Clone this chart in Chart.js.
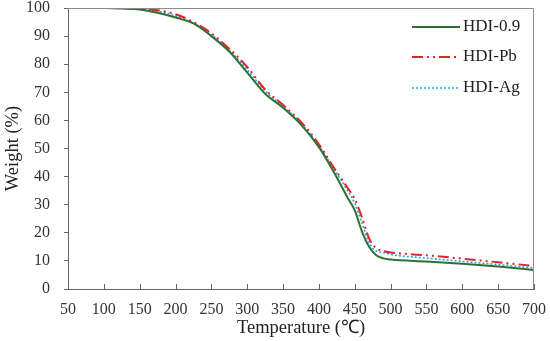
<!DOCTYPE html>
<html>
<head>
<meta charset="utf-8">
<script src="https://cdn.jsdelivr.net/npm/chart.js@4/dist/chart.umd.min.js"></script>
<style>
  html, body { margin: 0; padding: 0; background: #fff; }
  #wrap { width: 550px; height: 341px; position: relative; }
</style>
</head>
<body>
<div id="wrap"><canvas id="canvas"></canvas></div>
<script>
// temperature (°C) sample points
var temps = [50, 100, 125, 150, 175, 200, 225, 250, 275, 300, 325, 350, 375, 400, 420, 440, 450, 460, 470, 480, 490, 500, 550, 600, 650, 700];
var hdi09 = [100, 100, 99.8, 99.5, 98.3, 96.6, 94.5, 90, 84.5, 77, 69.5, 64.5, 58.5, 50.5, 42, 32.5, 28, 20.5, 15, 12, 10.9, 10.5, 9.8, 9, 8, 6.8];
var hdiPb = [100, 100, 100, 99.8, 99.2, 97.8, 95, 91, 85.5, 79, 71, 65.5, 59.5, 51.5, 43.5, 36, 32, 25.5, 18, 14.5, 13.5, 13, 12, 10.8, 9.5, 8.2];
var hdiAg = [100, 100, 99.9, 99.6, 98.8, 97.2, 94.6, 90.5, 85, 78, 70.5, 65, 59, 51, 43, 35, 30.5, 23.5, 16.5, 13.5, 13, 12.3, 11, 9.8, 8.7, 7.5];
var names = ['HDI-0.9', 'HDI-Pb', 'HDI-Ag'];
var xTicks = [50, 100, 150, 200, 250, 300, 350, 400, 450, 500, 550, 600, 650, 700];

function pts(ys) {
  return temps.map(function(t, i) { return { x: t, y: ys[i] }; });
}

var serif = "'Liberation Serif', 'Times New Roman', serif";

// frame round the plot + inward x ticks
var framePlugin = {
  id: 'frame',
  afterDraw: function(chart) {
    var c = chart.ctx, a = chart.chartArea, xs = chart.scales.x;
    c.save();
    c.strokeStyle = '#8c8c8c';
    c.lineWidth = 1;
    c.beginPath();
    c.moveTo(a.left, a.top + 0.5);
    c.lineTo(a.right - 0.5, a.top + 0.5);
    c.lineTo(a.right - 0.5, a.bottom);
    c.stroke();
    c.strokeStyle = '#666';
    c.beginPath();
    xs.ticks.forEach(function(t) {
      var px = Math.round(xs.getPixelForValue(t.value)) + 0.5;
      c.moveTo(px, a.bottom);
      c.lineTo(px, a.bottom - 5);
    });
    c.stroke();
    c.restore();
  }
};

// legend drawn inside the plot, top right
var legendPlugin = {
  id: 'inLegend',
  afterDraw: function(chart) {
    var c = chart.ctx;
    c.save();
    c.font = '17px ' + serif;
    c.textBaseline = 'middle';
    c.fillStyle = '#222';
    var ys = [27, 57, 88];
    chart.data.datasets.forEach(function(ds, i) {
      c.strokeStyle = ds.borderColor;
      c.lineWidth = ds.borderWidth;
      c.setLineDash(ds.borderDash || []);
      c.beginPath();
      c.moveTo(412, ys[i]);
      c.lineTo(460, ys[i]);
      c.stroke();
      c.setLineDash([]);
      c.fillText(ds.label, 463, ys[i]);
    });
    c.restore();
  }
};

const ctx = document.getElementById('canvas').getContext('2d');

const myChart = new Chart(ctx, {
  type: 'line',
  data: {
    datasets: [{
      label: names[0],
      data: pts(hdi09),
      borderColor: '#2f6f35',
      borderWidth: 2,
      pointRadius: 0,
      cubicInterpolationMode: 'monotone'
    }, {
      label: names[1],
      data: pts(hdiPb),
      borderColor: '#e3242b',
      borderWidth: 2,
      borderDash: [11, 4, 2, 4, 2, 4],
      pointRadius: 0,
      cubicInterpolationMode: 'monotone'
    }, {
      label: names[2],
      data: pts(hdiAg),
      borderColor: '#22a7d6',
      borderWidth: 1.6,
      borderDash: [2, 2],
      pointRadius: 0,
      cubicInterpolationMode: 'monotone'
    }]
  },
  options: {
    responsive: true,
    maintainAspectRatio: false,
    animation: false,
    layout: { padding: 0 },
    plugins: {
      legend: { display: false },
      tooltip: { enabled: false }
    },
    scales: {
      x: {
        type: 'linear',
        min: 50,
        max: 700,
        afterBuildTicks: function(scale) {
          scale.ticks = xTicks.map(function(v) { return { value: v }; });
        },
        afterFit: function(scale) {
          scale.height = 52;
          scale.paddingLeft = 0;
          scale.paddingRight = 16;
        },
        grid: { display: true, drawOnChartArea: false, drawTicks: false },
        border: { display: true, color: '#666', width: 1 },
        ticks: {
          padding: 11,
          maxRotation: 0,
          autoSkip: false,
          color: '#333',
          font: { family: serif, size: 16 }
        },
        title: {
          display: true,
          text: 'Temperature (℃)',
          color: '#222',
          padding: { top: 2, bottom: 2 },
          font: { family: serif, size: 18.5 }
        }
      },
      y: {
        min: 0,
        max: 100,
        afterFit: function(scale) {
          scale.width = 68;
          scale.paddingTop = 8;
          scale.paddingBottom = 0;
        },
        ticks: {
          stepSize: 10,
          padding: 14,
          color: '#333',
          font: { family: serif, size: 16 }
        },
        grid: { display: true, drawOnChartArea: false, drawTicks: true, tickLength: 4, tickColor: '#666' },
        border: { display: true, color: '#666', width: 1 },
        title: {
          display: true,
          text: 'Weight (%)',
          color: '#222',
          padding: { top: 2, bottom: 0 },
          font: { family: serif, size: 18.5 }
        }
      }
    }
  },
  plugins: [framePlugin, legendPlugin]
});
</script>
</body>
</html>
